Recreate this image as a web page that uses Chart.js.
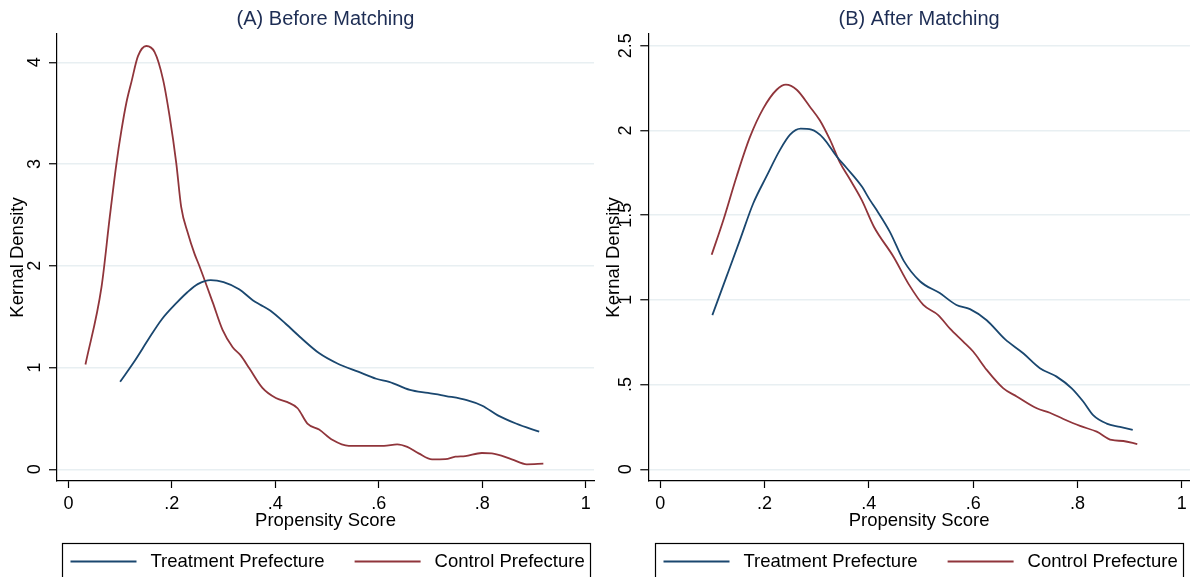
<!DOCTYPE html>
<html>
<head>
<meta charset="utf-8">
<script src="https://cdn.jsdelivr.net/npm/chart.js@4.4.0/dist/chart.umd.min.js"></script>
<style>
  html, body { margin: 0; padding: 0; background: #fff; overflow: hidden; }
  .wrap { position: relative; width: 1192px; height: 577px; }
  .pane { position: absolute; top: 0; width: 596px; height: 577px; }
  #pA { left: 0; }
  #pB { left: 596px; }
</style>
</head>
<body>
<div class="wrap">
  <div class="pane" id="pA"><canvas id="cA"></canvas></div>
  <div class="pane" id="pB"><canvas id="cB"></canvas></div>
</div>
<script>
// ---- data ----
const seriesNames = ['Treatment Prefecture', 'Control Prefecture'];
const panelTitles = ['(A) Before Matching', '(B) After Matching'];

// (A) before matching
const xTreatA = [0.10, 0.13, 0.155, 0.18, 0.21, 0.23, 0.25, 0.275, 0.30, 0.33, 0.357, 0.37, 0.39, 0.42, 0.45, 0.485, 0.52, 0.56, 0.595, 0.62, 0.66, 0.695, 0.73, 0.77, 0.80, 0.83, 0.865, 0.91];
const yTreatA = [0.86, 1.08, 1.28, 1.47, 1.64, 1.74, 1.82, 1.86, 1.84, 1.77, 1.66, 1.62, 1.56, 1.43, 1.29, 1.14, 1.04, 0.96, 0.89, 0.86, 0.78, 0.75, 0.72, 0.68, 0.625, 0.53, 0.45, 0.37];
const xCtrlA = [0.033, 0.064, 0.080, 0.093, 0.1025, 0.112, 0.122, 0.1345, 0.1506, 0.1667, 0.183, 0.1956, 0.2085, 0.218, 0.231, 0.2437, 0.253, 0.279, 0.298, 0.3175, 0.333, 0.350, 0.375, 0.401, 0.4235, 0.443, 0.462, 0.4846, 0.510, 0.542, 0.575, 0.61, 0.6355, 0.655, 0.677, 0.703, 0.7287, 0.748, 0.767, 0.799, 0.8185, 0.857, 0.886, 0.918];
const yCtrlA = [1.03, 1.79, 2.48, 3.01, 3.33, 3.60, 3.81, 4.06, 4.16, 4.10, 3.83, 3.47, 3.01, 2.58, 2.32, 2.12, 2.00, 1.64, 1.37, 1.20, 1.12, 0.99, 0.80, 0.70, 0.66, 0.60, 0.45, 0.39, 0.29, 0.23, 0.23, 0.23, 0.245, 0.22, 0.157, 0.098, 0.10, 0.124, 0.13, 0.16, 0.157, 0.098, 0.049, 0.055];

// (B) after matching
const xTreatB = [0.10, 0.1275, 0.153, 0.1785, 0.204, 0.2297, 0.249, 0.2694, 0.29, 0.3127, 0.3384, 0.3575, 0.3863, 0.402, 0.415, 0.4406, 0.467, 0.498, 0.536, 0.568, 0.594, 0.626, 0.661, 0.696, 0.728, 0.760, 0.789, 0.811, 0.830, 0.856, 0.8815, 0.906];
const yTreatB = [0.91, 1.14, 1.354, 1.57, 1.73, 1.885, 1.975, 2.01, 2.004, 1.955, 1.846, 1.778, 1.67, 1.59, 1.53, 1.40, 1.23, 1.11, 1.04, 0.97, 0.945, 0.88, 0.768, 0.685, 0.597, 0.547, 0.478, 0.40, 0.32, 0.27, 0.25, 0.232];
const xCtrlB = [0.0987, 0.121, 0.1467, 0.172, 0.1977, 0.2233, 0.241, 0.2617, 0.287, 0.306, 0.3255, 0.3447, 0.364, 0.3863, 0.41, 0.447, 0.477, 0.5045, 0.533, 0.5556, 0.581, 0.600, 0.626, 0.658, 0.6835, 0.722, 0.747, 0.773, 0.805, 0.837, 0.8656, 0.888, 0.9147];
const yCtrlB = [1.266, 1.47, 1.73, 1.96, 2.13, 2.24, 2.27, 2.24, 2.14, 2.06, 1.945, 1.81, 1.71, 1.59, 1.43, 1.256, 1.09, 0.97, 0.91, 0.83, 0.754, 0.695, 0.587, 0.478, 0.43, 0.36, 0.334, 0.297, 0.256, 0.222, 0.173, 0.167, 0.149];

const xTicks = [0, 0.2, 0.4, 0.6, 0.8, 1];
const yTicksA = [0, 1, 2, 3, 4];
const yTicksB = [0, 0.5, 1, 1.5, 2, 2.5];

// ---- style ----
const FONT = '"Liberation Sans", Arial, Helvetica, sans-serif';
const NAVY = '#1a476f';
const MAROON = '#90353b';
const GRID = '#e8eff2';

const fmt = v => String(+Number(v).toFixed(2)).replace(/^0\./, '.');
const pts = (xs, ys) => xs.map((x, i) => ({ x, y: ys[i] }));

// Stata-style boxed legend under the plot
const boxLegend = {
  id: 'boxLegend',
  afterDraw(chart) {
    const { ctx, chartArea } = chart;
    const cx = (chartArea.left + chartArea.right) / 2;
    const left = Math.round(cx - 264) + 0.5;
    const top = 543.5;
    const y = 561.5;
    ctx.save();
    ctx.strokeStyle = '#000';
    ctx.lineWidth = 1.2;
    ctx.strokeRect(left, top, 528, 60);
    ctx.font = '18.5px ' + FONT;
    ctx.textBaseline = 'middle';
    ctx.textAlign = 'left';
    let x = left + 8;
    chart.data.datasets.forEach(ds => {
      ctx.strokeStyle = ds.borderColor;
      ctx.lineWidth = 2;
      ctx.beginPath();
      ctx.moveTo(x, y);
      ctx.lineTo(x + 66, y);
      ctx.stroke();
      ctx.fillStyle = '#000';
      ctx.fillText(ds.label, x + 80, y);
      x += 80 + ctx.measureText(ds.label).width + 30;
    });
    ctx.restore();
  }
};

function makePanel(id, title, treat, ctrl, yTicks, rng) {
  const ctx = document.getElementById(id).getContext('2d');
  return new Chart(ctx, {
    type: 'line',
    data: {
      datasets: [
        { label: seriesNames[0], data: treat, borderColor: NAVY, borderWidth: 1.8, pointRadius: 0, cubicInterpolationMode: 'monotone', fill: false },
        { label: seriesNames[1], data: ctrl, borderColor: MAROON, borderWidth: 1.8, pointRadius: 0, cubicInterpolationMode: 'monotone', fill: false }
      ]
    },
    options: {
      responsive: true, maintainAspectRatio: false,
      animation: false,
      events: [],
      layout: { padding: { left: 0, right: rng.padR, top: 0, bottom: 44 } },
      plugins: {
        legend: { display: false },
        tooltip: { enabled: false },
        title: {
          display: true, text: title, fullSize: false, color: '#1d2d54',
          font: { family: FONT, size: 20, weight: 'normal' },
          padding: { top: 7.2, bottom: 2.8 }
        }
      },
      scales: {
        x: {
          type: 'linear', min: rng.xMin, max: rng.xMax,
          afterBuildTicks: s => { s.ticks = xTicks.map(v => ({ value: v })); },
          afterFit: s => { s.height = 52; },
          grid: { drawOnChartArea: false, tickLength: 7, tickColor: '#000', tickWidth: 1.2 },
          border: { color: '#000', width: 1.2 },
          ticks: { color: '#000', font: { family: FONT, size: 18 }, padding: 5.2, maxRotation: 0, autoSkip: false, callback: fmt },
          title: { display: true, text: 'Propensity Score', color: '#000', font: { family: FONT, size: 18.5 }, padding: { top: 0, bottom: 1 } }
        },
        y: {
          type: 'linear', min: rng.yMin, max: rng.yMax,
          afterBuildTicks: s => { s.ticks = yTicks.map(v => ({ value: v })); },
          afterFit: s => { s.width = rng.yw; },
          grid: { color: GRID, lineWidth: 1.5, tickLength: 8, tickColor: '#000', tickWidth: 1.2 },
          border: { color: '#000', width: 1.2 },
          ticks: { color: '#000', font: { family: FONT, size: 18 }, padding: rng.tickPad, minRotation: 90, maxRotation: 90, crossAlign: 'center', autoSkip: false, callback: fmt },
          title: { display: true, text: 'Kernal Density', color: '#000', font: { family: FONT, size: 18.5 }, padding: { top: 6.7, bottom: 0 } }
        }
      }
    },
    plugins: [boxLegend]
  });
}

makePanel('cA', panelTitles[0], pts(xTreatA, yTreatA), pts(xCtrlA, yCtrlA), yTicksA,
  { xMin: -0.022, xMax: 1.016, yMin: -0.115, yMax: 4.278, yw: 57, tickPad: 9.2, padR: 0 });
makePanel('cB', panelTitles[1], pts(xTreatB, yTreatB), pts(xCtrlB, yCtrlB), yTicksB,
  { xMin: -0.0228, xMax: 1.0157, yMin: -0.069, yMax: 2.569, yw: 52.3, tickPad: 1.5, padR: 2 });
</script>
</body>
</html>
